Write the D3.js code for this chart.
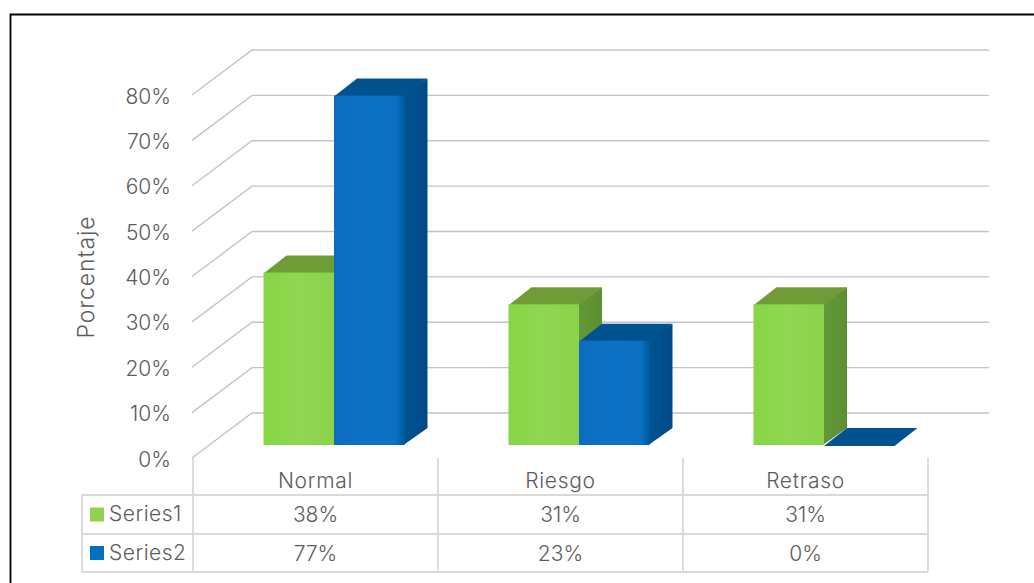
<!DOCTYPE html>
<html><head><meta charset="utf-8">
<script src="https://cdn.jsdelivr.net/npm/d3@7"></script>
<style>html,body{margin:0;padding:0;background:#fff}svg{display:block}text{font-family:Inter,"Noto Sans",sans-serif;fill:#5c5c5c;font-weight:350}</style>
</head><body><svg id="c" width="1034" height="583"></svg>
<script>
const categories = ["Normal","Riesgo","Retraso"];
const seriesNames = ["Series1","Series2"];
const series1 = [0.38,0.31,0.31];
const series2 = [0.77,0.23,0];
const tickValues = [0,0.1,0.2,0.3,0.4,0.5,0.6,0.7,0.8];
const axisTitle = "Porcentaje";

const svg = d3.select("#c");
const defs = svg.append("defs");
function grad(id,stops){
  const g=defs.append("linearGradient").attr("id",id).attr("x1",0).attr("y1",0).attr("x2",1).attr("y2",0);
  stops.forEach(s=>g.append("stop").attr("offset",s[0]).attr("stop-color",s[1]));
}
grad("gf",[[0,"#86d644"],[.5,"#90d653"],[1,"#8cd24b"]]);
grad("gfb",[[0,"#0a6cc0"],[.5,"#0772c6"],[.88,"#0770c2"],[1,"#055a9f"]]);
grad("gs",[[0,"#62983a"],[1,"#5c8f30"]]);
grad("gsb",[[0,"#04538f"],[.5,"#034f8e"],[1,"#044a85"]]);
defs.append("filter").attr("id","soft").append("feGaussianBlur").attr("stdDeviation",0.7);
const colors=[{front:"url(#gf)",side:"url(#gs)",top:"#6f9c39"},{front:"url(#gfb)",side:"url(#gsb)",top:"#05528f"}];
const legendColors=["#92d050","#0070c0"];

// frame: only the left and top edges are visible, running off the right
svg.append("path").attr("d","M10.5,583V14.5H1034").attr("fill","none").attr("stroke","#000").attr("stroke-width",1.8);

// scales
const yFront=d3.scaleLinear().domain([0,0.8]).range([458,95]);
const wallDx=60, wallDy=45;
const barDx=23, barDy=17, barBase=445;
const yBar=d3.scaleLinear().domain([0,0.8]).range([barBase,barBase-363]);
const xCat=d3.scaleBand().domain(categories).range([193,928]);
const xSer=d3.scaleBand().domain([0,1]).range([0,141]);
const catInset=70.5;

// gridlines
const gl=svg.append("g").attr("fill","none").attr("stroke","#c4c4c4").attr("stroke-width",1.4);
tickValues.forEach(v=>{
  const y=yFront(v);
  gl.append("path").attr("d",`M192,${y}L${192+wallDx},${y-wallDy}H989`);
});

// y tick labels
svg.append("g").selectAll("text").data(tickValues).join("text")
 .attr("x",171).attr("y",d=>yFront(d)+1).attr("dy","0.36em").attr("text-anchor","end")
 .attr("font-size",21).text(d=>d3.format(".0%")(d));
svg.append("text").attr("transform","translate(86,277) rotate(-90)").attr("text-anchor","middle").attr("font-size",23).attr("letter-spacing",0.9).attr("dy","0.36em").text(axisTitle);

// bars: green first, so blue sits on top of its side face
const values=[series1,series2];
const bars=svg.append("g").attr("filter","url(#soft)");
categories.forEach((c,ci)=>{
  const x0=xCat(c)+catInset;
  [0,1].forEach(si=>{
    const v=values[si][ci];
    const xl=x0+xSer(si), w=xSer.bandwidth(), yt=yBar(v), yb=barBase;
    const g=bars.append("g");
    g.append("path").attr("fill",colors[si].side).attr("d",`M${xl+w-1},${yt}L${xl+w+barDx},${yt-barDy}V${yb-barDy}L${xl+w-1},${yb}Z`);
    g.append("path").attr("fill",colors[si].top).attr("d",`M${xl},${yt+1}L${xl+barDx},${yt-barDy}H${xl+w+barDx}L${xl+w},${yt+1}Z`);
    g.append("rect").attr("x",xl).attr("y",yt).attr("width",w).attr("height",yb-yt).attr("fill",colors[si].front);
  });
});

// data table
const rowY=[495,534,572];
const tb=svg.append("g").attr("fill","none").attr("stroke","#d9d9d9").attr("stroke-width",1.8);
rowY.forEach(y=>tb.append("path").attr("d",`M82,${y}H928`));
tb.append("path").attr("d",`M82,495V572`);
categories.forEach(c=>tb.append("path").attr("d",`M${xCat(c)},458V572`));
tb.append("path").attr("d",`M928,458V572`);

svg.append("g").selectAll("text").data(categories).join("text")
 .attr("x",d=>xCat(d)+xCat.bandwidth()/2).attr("y",488).attr("text-anchor","middle").attr("font-size",21).attr("letter-spacing",0.7).text(d=>d);
values.forEach((vals,si)=>{
  const y=(rowY[si]+rowY[si+1])/2;
  svg.append("rect").attr("x",90).attr("y",y-7).attr("width",14).attr("height",14).attr("fill",legendColors[si]);
  svg.append("text").attr("x",109).attr("y",y-1).attr("dy","0.36em").attr("font-size",21).attr("letter-spacing",0.5).text(seriesNames[si]);
  svg.append("g").selectAll("text").data(vals).join("text")
   .attr("x",(d,i)=>xCat(categories[i])+xCat.bandwidth()/2).attr("y",y).attr("dy","0.36em").attr("text-anchor","middle").attr("font-size",21)
   .text(d=>d3.format(".0%")(d));
});
</script></body></html>
